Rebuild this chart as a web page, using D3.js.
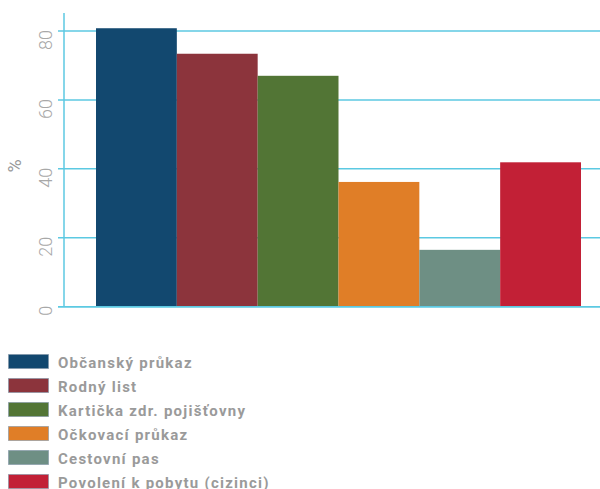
<!DOCTYPE html>
<html><head><meta charset="utf-8">
<script src="https://cdn.jsdelivr.net/npm/d3@7"></script>
<style>body{margin:0;background:#fff}</style>
</head><body>
<svg id="c" width="600" height="489"></svg>
<script>
const categories = ["Občanský průkaz","Rodný list","Kartička zdr. pojišťovny","Očkovací průkaz","Cestovní pas","Povolení k pobytu (cizinci)"];
const values = [80.8, 73.4, 67.0, 36.2, 16.5, 41.9];
const colors = ["#12486f","#8c343c","#527535","#e07e27","#6e8f84","#c22036"];
const yTicks = [0,20,40,60,80];

const svg = d3.select("#c");
const x = d3.scaleBand().domain(categories).range([96,581]).padding(0);
const y = d3.scaleLinear().domain([0,80]).range([306.7,31]);
const grid = "#5cc9e2";

// gridlines
svg.append("g").selectAll("line").data(yTicks).join("line")
  .attr("x1",58).attr("x2",600).attr("y1",d=>y(d)).attr("y2",d=>y(d))
  .attr("stroke",grid).attr("stroke-width",1.5);
// y axis line
svg.append("line").attr("x1",64).attr("x2",64).attr("y1",13).attr("y2",y(0))
  .attr("stroke",grid).attr("stroke-width",1.5);

// bars
svg.append("g").selectAll("rect").data(values).join("rect")
  .attr("x",(d,i)=>x(categories[i])).attr("width",x.bandwidth())
  .attr("y",d=>y(d)).attr("height",d=>y(0)-y(d))
  .attr("fill",(d,i)=>colors[i]);

// baseline on top
svg.append("line").attr("x1",58).attr("x2",600).attr("y1",y(0)).attr("y2",y(0))
  .attr("stroke",grid).attr("stroke-width",1.5);

// tick labels
svg.append("g").selectAll("text").data(yTicks).join("text")
  .attr("transform",d=>`translate(51.5,${y(d)-1}) rotate(-90)`)
  .attr("text-anchor","end")
  .attr("font-family","Roboto, sans-serif").attr("font-weight",300)
  .attr("font-size",18).attr("fill","#a8a8a8")
  .text(d=>d);

svg.append("text").attr("transform","translate(21,166) rotate(-90)")
  .attr("text-anchor","middle")
  .attr("font-family","Roboto, sans-serif")
  .attr("font-size",18).attr("fill","#999999").text("%");

// legend
const lg = svg.append("g").selectAll("g").data(categories).join("g")
  .attr("transform",(d,i)=>`translate(0,${354+i*24})`);
lg.append("rect").attr("x",8.5).attr("y",0.5).attr("width",40).attr("height",14)
  .attr("fill",(d,i)=>colors[i]).attr("stroke","#7f93a5").attr("stroke-width",1).attr("stroke-opacity",0.6);
lg.append("text").attr("x",58).attr("y",14.3)
  .attr("font-family","Roboto, sans-serif").attr("font-weight","bold")
  .attr("font-size",15).attr("letter-spacing",1.25).attr("fill","#9a9a9a")
  .text(d=>d);
</script>
</body></html>
